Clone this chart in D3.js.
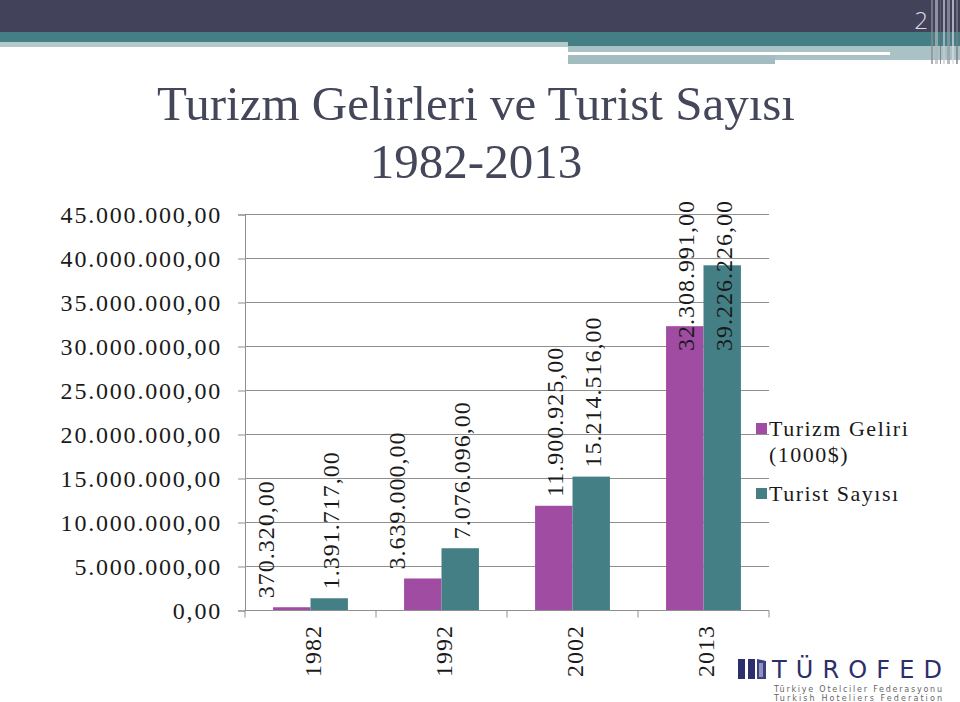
<!DOCTYPE html>
<html>
<head>
<meta charset="utf-8">
<script src="https://cdn.jsdelivr.net/npm/d3@7"></script>
<style>
  html, body { margin: 0; padding: 0; background: #fff; }
  svg { display: block; }
</style>
</head>
<body>
<div id="container"></div>
<script>
const categories = ['1982', '1992', '2002', '2013'];
const turizmGeliri = [370320, 3639000, 11900925, 32308991];
const turistSayisi = [1391717, 7076096, 15214516, 39226226];
const yTicks = [0, 5000000, 10000000, 15000000, 20000000, 25000000, 30000000, 35000000, 40000000, 45000000];
const seriesNames = ['Turizm Geliri', 'Turist Sayısı'];
const seriesColors = ['#a04ca2', '#447f86'];

const width = 960, height = 702;
const serif = "'Liberation Serif', 'Times New Roman', serif";

const trFormat = d3.formatLocale({ decimal: ',', thousands: '.', grouping: [3], currency: ['', ''] }).format(',.2f');

const svg = d3.select('#container').append('svg')
    .attr('width', width).attr('height', height);

// slide header bands
const header = svg.append('g');
header.append('rect').attr('x', 0).attr('y', 0).attr('width', 960).attr('height', 32).attr('fill', '#42435a');
header.append('rect').attr('x', 0).attr('y', 32).attr('width', 960).attr('height', 10).attr('fill', '#457f86');
header.append('rect').attr('x', 568).attr('y', 42).attr('width', 392).attr('height', 4).attr('fill', '#457f86');
header.append('rect').attr('x', 0).attr('y', 42).attr('width', 568).attr('height', 5).attr('fill', '#b3c9cc');
header.append('rect').attr('x', 568).attr('y', 46).attr('width', 392).attr('height', 14).attr('fill', '#a9c2c5');
header.append('rect').attr('x', 568).attr('y', 52).attr('width', 322).attr('height', 3).attr('fill', '#ffffff');
header.append('rect').attr('x', 568).attr('y', 55).attr('width', 207).attr('height', 9).attr('fill', '#a3bcc0');
header.append('rect').attr('x', 775).attr('y', 60).attr('width', 185).attr('height', 4).attr('fill', '#ffffff');
const stripes = [[931, 2, '#8a8a96'], [935, 3, '#b4b4bc'], [940, 1, '#6a6a78'], [943, 2, '#c9c9d0'], [947, 3, '#9a9aa6'], [952, 2, '#dcdce2'], [956, 2, '#7b7b88']];
stripes.forEach(s => {
    header.append('rect').attr('x', s[0]).attr('y', 0).attr('width', s[1]).attr('height', 64)
        .attr('fill', s[2]).attr('opacity', 0.7);
});
header.append('text').attr('x', 921).attr('y', 29).attr('text-anchor', 'middle')
    .attr('font-family', "'Open Sans', sans-serif").attr('font-weight', 300).attr('font-size', 24)
    .attr('fill', '#dcdce4').text('2');

// title
const title = svg.append('text').attr('text-anchor', 'middle')
    .attr('font-family', serif).attr('font-size', 49).attr('fill', '#44465a');
title.append('tspan').attr('x', 476).attr('y', 120).text('Turizm Gelirleri ve Turist Sayısı');
title.append('tspan').attr('x', 476).attr('y', 178).text('1982-2013');

// scales
const x0 = d3.scaleBand().domain(categories).range([245, 769]).padding(0);
const x1 = d3.scaleBand().domain([0, 1]).range([0, x0.bandwidth()]).paddingInner(0).paddingOuter(0.75);
const y = d3.scaleLinear().domain([0, 45000000]).range([610.5, 214.5]);

// gridlines
svg.append('g').selectAll('line').data(yTicks.filter(d => d > 0)).join('line')
    .attr('x1', 245).attr('x2', 769)
    .attr('y1', d => y(d)).attr('y2', d => y(d))
    .attr('stroke', '#8f8f8f').attr('stroke-width', 1);

// y axis
const yAxis = svg.append('g').attr('transform', 'translate(245,0)')
    .call(d3.axisLeft(y).tickValues(yTicks).tickSize(7).tickPadding(16).tickFormat(trFormat));
yAxis.select('.domain').attr('stroke', '#8f8f8f');
yAxis.selectAll('.tick line').attr('stroke', '#8f8f8f');
yAxis.selectAll('.tick text')
    .attr('font-family', serif).attr('font-size', 24).attr('fill', '#1a1a1a')
    .attr('letter-spacing', 1.8);

// bars
const values = categories.map((c, i) => [turizmGeliri[i], turistSayisi[i]]);
const groups = svg.append('g').selectAll('g').data(categories).join('g')
    .attr('transform', d => `translate(${x0(d)},0)`);
groups.selectAll('rect').data((d, i) => values[i].map((v, k) => ({ k, v }))).join('rect')
    .attr('x', d => x1(d.k)).attr('width', x1.bandwidth())
    .attr('y', d => y(d.v)).attr('height', d => y(0) - y(d.v))
    .attr('fill', d => seriesColors[d.k]);

// x axis
const xAxis = svg.append('g');
xAxis.append('line').attr('x1', 245).attr('x2', 769).attr('y1', y(0)).attr('y2', y(0))
    .attr('stroke', '#8f8f8f');
const bounds = categories.map(c => x0(c)).concat([x0.range()[1]]);
xAxis.selectAll('.xt').data(bounds).join('line').attr('class', 'xt')
    .attr('x1', d => d).attr('x2', d => d).attr('y1', y(0)).attr('y2', y(0) + 7)
    .attr('stroke', '#8f8f8f');
xAxis.selectAll('text').data(categories).join('text')
    .attr('transform', d => `translate(${x0(d) + x0.bandwidth() / 2 + 2},625) rotate(-90)`)
    .attr('text-anchor', 'end').attr('dy', '0.35em')
    .attr('font-family', serif).attr('font-size', 24).attr('letter-spacing', 1).attr('fill', '#1a1a1a')
    .text(d => d);

// data labels
const labelNudge = [[-27, 0], [-27, 0], [0, 0], [0, 0]];
const labelTop = 200;
const labels = svg.append('g');
categories.forEach((c, i) => {
    values[i].forEach((v, k) => {
        const cx = x0(c) + x1(k) + x1.bandwidth() / 2 + labelNudge[i][k] + 1;
        const t = labels.append('text')
            .attr('font-family', serif).attr('font-size', 24).attr('letter-spacing', 1)
            .attr('fill', '#1a1a1a').attr('dy', '0.35em')
            .text(trFormat(v));
        const len = t.node().getComputedTextLength();
        let base = y(v) - 9;
        if (base - len < labelTop) base = labelTop + len;
        t.attr('transform', `translate(${cx},${base}) rotate(-90)`);
    });
});

// legend
const legend = svg.append('g').attr('font-family', serif).attr('font-size', 22)
    .attr('letter-spacing', 1.5).attr('fill', '#1a1a1a');
legend.append('rect').attr('x', 756).attr('y', 423).attr('width', 11).attr('height', 11).attr('fill', seriesColors[0]);
const lt = legend.append('text');
lt.append('tspan').attr('x', 769).attr('y', 436).text(seriesNames[0]);
lt.append('tspan').attr('x', 769).attr('y', 462).text('(1000$)');
legend.append('rect').attr('x', 756).attr('y', 488).attr('width', 11).attr('height', 11).attr('fill', seriesColors[1]);
legend.append('text').attr('x', 769).attr('y', 501).text(seriesNames[1]);

// logo
const logo = svg.append('g');
logo.append('rect').attr('x', 738).attr('y', 659).attr('width', 7).attr('height', 20).attr('fill', '#2c2f6b');
logo.append('rect').attr('x', 748).attr('y', 659).attr('width', 7).attr('height', 20).attr('fill', '#2c2f6b');
logo.append('path').attr('d', 'M757,659 L766,661 L766,679 L757,679 Z').attr('fill', '#3c4080');
logo.append('rect').attr('x', 759).attr('y', 663).attr('width', 4).attr('height', 14).attr('fill', '#8e93c0');
logo.append('text').attr('x', 772).attr('y', 678).attr('textLength', 170).attr('lengthAdjust', 'spacing')
    .attr('font-family', "'DejaVu Sans', sans-serif").attr('font-size', 24).attr('fill', '#2c2f6b')
    .text('TÜROFED');
logo.append('text').attr('x', 774).attr('y', 692).attr('textLength', 168).attr('lengthAdjust', 'spacing')
    .attr('font-family', "'DejaVu Sans', sans-serif").attr('font-size', 8).attr('fill', '#666')
    .text('Türkiye Otelciler Federasyonu');
logo.append('text').attr('x', 774).attr('y', 701).attr('textLength', 168).attr('lengthAdjust', 'spacing')
    .attr('font-family', "'DejaVu Sans', sans-serif").attr('font-size', 8).attr('fill', '#666')
    .text('Turkish Hoteliers Federation');
</script>
</body>
</html>
